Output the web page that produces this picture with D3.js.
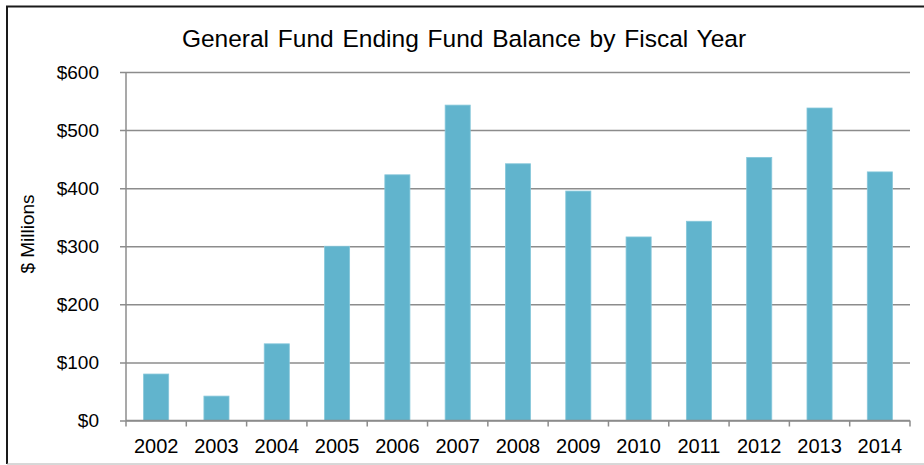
<!DOCTYPE html>
<html>
<head>
<meta charset="utf-8">
<script src="https://cdn.jsdelivr.net/npm/d3@7"></script>
<style>
  html, body { margin: 0; padding: 0; background: #fff; }
  svg text { font-family: "Liberation Sans", Arial, sans-serif; fill: #000; }
</style>
</head>
<body>
<svg id="chart" width="924" height="465"></svg>
<script>
// General Fund ending balance, $ millions, by fiscal year
const years = ["2002","2003","2004","2005","2006","2007","2008","2009","2010","2011","2012","2013","2014"];
const balances = [80, 42, 132, 300, 423, 543, 442, 395, 316, 343, 453, 538, 428];
const yTicks = [0, 100, 200, 300, 400, 500, 600];
const titleText = "General Fund Ending Fund Balance by Fiscal Year";
const yAxisTitle = "$ Millions";

const svg = d3.select("#chart");
const plot = { left: 126, right: 910, top: 72, bottom: 420.5 };
const gridColor = "#8c8c8c";

// outer frame
svg.append("path")
  .attr("d", `M7,464 L7,6.5 L924,6.5`)
  .attr("fill", "none").attr("stroke", "#1a1a1a").attr("stroke-width", 2);
svg.append("line")
  .attr("x1", 7).attr("x2", 924).attr("y1", 464).attr("y2", 464)
  .attr("stroke", "#b0b0b0").attr("stroke-width", 1);

const x = d3.scaleBand()
  .domain(years)
  .range([plot.left, plot.right])
  .paddingInner(0.584)
  .paddingOuter(0.292);

const y = d3.scaleLinear()
  .domain([0, 600])
  .range([plot.bottom, plot.top]);

// horizontal gridlines with outward tick stubs
const yAxis = d3.axisLeft(y)
  .tickValues(yTicks)
  .tickFormat(d => "$" + d)
  .tickSize(-(plot.right - plot.left))
  .tickPadding(27);

const gy = svg.append("g")
  .attr("transform", `translate(${plot.left},0)`)
  .call(yAxis);
gy.select(".domain").remove();
gy.selectAll(".tick line")
  .attr("x1", -6)
  .attr("stroke", gridColor).attr("stroke-width", 1.5);
gy.selectAll(".tick text")
  .attr("font-size", 19)
  .style("font-family", "'Liberation Sans', Arial, sans-serif")
  .attr("fill", "#000");

// vertical axis line
svg.append("line")
  .attr("x1", plot.left).attr("x2", plot.left)
  .attr("y1", plot.top).attr("y2", plot.bottom)
  .attr("stroke", gridColor).attr("stroke-width", 1.5);

// bars
svg.append("g").selectAll("rect")
  .data(years.map((yr, i) => ({ yr, v: balances[i] })))
  .join("rect")
  .attr("x", d => x(d.yr))
  .attr("width", x.bandwidth())
  .attr("y", d => y(d.v))
  .attr("height", d => y(0) - y(d.v))
  .attr("fill", "#61b4cd")
  .attr("stroke", "#86c7da")
  .attr("stroke-width", 0.8);

// category axis: baseline, boundary ticks, labels
svg.append("line")
  .attr("x1", plot.left).attr("x2", plot.right)
  .attr("y1", plot.bottom).attr("y2", plot.bottom)
  .attr("stroke", gridColor).attr("stroke-width", 1.5);

const step = x.step();
const boundaries = d3.range(years.length + 1).map(i => plot.left + i * step);
svg.append("g").selectAll("line")
  .data(boundaries)
  .join("line")
  .attr("x1", d => d).attr("x2", d => d)
  .attr("y1", plot.bottom).attr("y2", plot.bottom + 6)
  .attr("stroke", gridColor).attr("stroke-width", 1.5);

svg.append("g").selectAll("text")
  .data(years)
  .join("text")
  .attr("x", d => x(d) + x.bandwidth() / 2)
  .attr("y", 453)
  .attr("text-anchor", "middle")
  .attr("font-size", 20)
  .text(d => d);

// y axis title
svg.append("text")
  .attr("transform", "translate(34,234) rotate(-90)")
  .attr("text-anchor", "middle")
  .attr("font-size", 19)
  .text(yAxisTitle);

// chart title
svg.append("text")
  .attr("x", 464)
  .attr("y", 47)
  .attr("text-anchor", "middle")
  .attr("font-size", 24.5)
  .attr("word-spacing", 2)
  .text(titleText);
</script>
</body>
</html>
